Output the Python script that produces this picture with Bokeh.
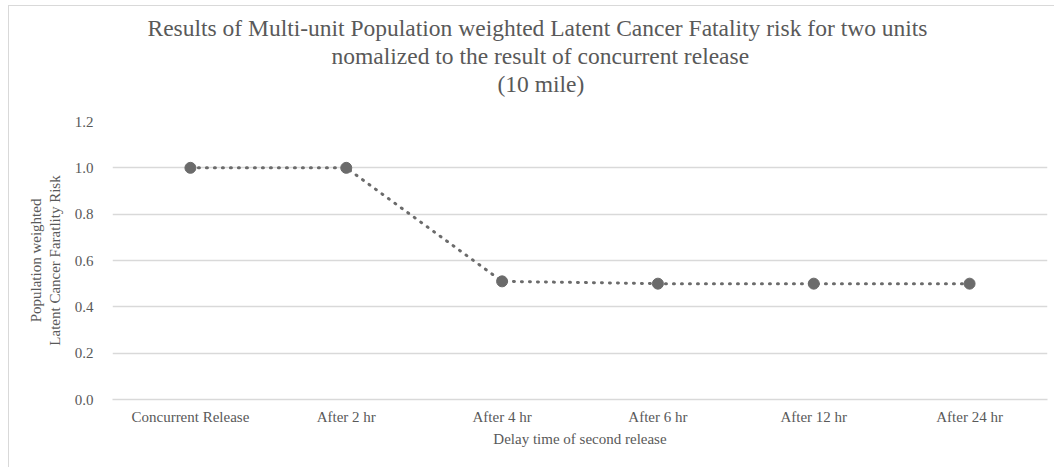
from bokeh.plotting import figure
from bokeh.models import Range1d, FixedTicker, NumeralTickFormatter, Title
from bokeh.embed import file_html
from bokeh.resources import INLINE

categories = ["Concurrent Release", "After 2 hr", "After 4 hr", "After 6 hr", "After 12 hr", "After 24 hr"]
values = [1.00, 1.00, 0.51, 0.50, 0.50, 0.50]
y_ticks = [0.0, 0.2, 0.4, 0.6, 0.8, 1.0, 1.2]
title_lines = [
    "Results of Multi-unit Population weighted Latent Cancer Fatality risk for two units",
    "nomalized to the result of concurrent release",
    "(10 mile)",
]
# left offsets (px from plot-frame left) that centre each title line near the chart centre
title_offsets = [35, 219, 385]

FONT = "Liberation Serif"
TXT = "#595959"
GRID = "#d9d9d9"
LINE = "#6b6b6b"

p = figure(
    x_range=categories, y_range=Range1d(0, 1.2),
    width=1046, height=462,
    output_backend="svg", toolbar_location=None,
    min_border_left=103, min_border_right=8, min_border_top=115, min_border_bottom=69,
    styles={"margin-left": "8px", "margin-top": "5px",
            "border-left": "1px solid #d9d9d9", "border-top": "1px solid #d9d9d9"},
)
p.outline_line_color = None
p.background_fill_color = "white"
p.border_fill_color = "white"
p.title.visible = False

# spacer between title block and plot frame
p.add_layout(Title(text=" ", text_font_size="1px", standoff=22), "above")
for line, off in zip(reversed(title_lines), reversed(title_offsets)):
    p.add_layout(Title(text=line, align="left", offset=off, text_font=FONT,
                       text_font_size="23.5px", text_font_style="normal",
                       text_line_height=0.85, text_color=TXT, standoff=0), "above")

p.line(categories, values, line_color=LINE, line_width=3, line_dash="1 7", line_cap="round")
p.scatter(categories, values, size=11, fill_color=LINE, line_color=LINE)

p.xgrid.grid_line_color = None
p.ygrid.grid_line_color = GRID
p.ygrid.grid_line_width = 1.5
p.yaxis.ticker = FixedTicker(ticks=y_ticks)
p.yaxis.formatter = NumeralTickFormatter(format="0.0")
p.yaxis.axis_line_color = None
p.yaxis.major_tick_line_color = None
p.yaxis.minor_tick_line_color = None
p.yaxis.major_label_standoff = 13
p.yaxis.axis_label = "Population weighted\nLatent Cancer Faratlity Risk"
p.yaxis.axis_label_standoff = 9

p.xaxis.axis_line_color = GRID
p.xaxis.axis_line_width = 1.5
p.xaxis.major_tick_line_color = None
p.xaxis.minor_tick_line_color = None
p.xaxis.major_label_standoff = 3
p.xaxis.axis_label = "Delay time of second release"
p.xaxis.axis_label_standoff = 3

for ax in (p.xaxis[0], p.yaxis[0]):
    ax.major_label_text_font = FONT
    ax.major_label_text_font_size = "15px"
    ax.major_label_text_color = TXT
    ax.axis_label_text_font = FONT
    ax.axis_label_text_font_size = "15px"
    ax.axis_label_text_font_style = "normal"
    ax.axis_label_text_color = TXT

open("out.html", "w").write(file_html(p, INLINE))
